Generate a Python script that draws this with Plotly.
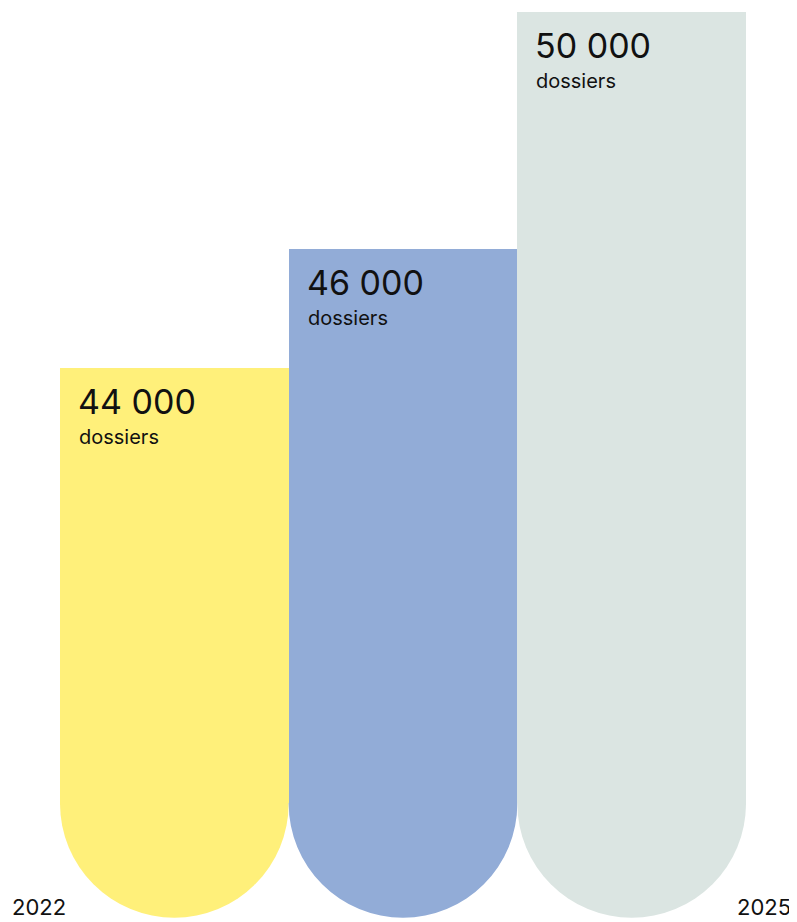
import plotly.graph_objects as go

# Data
categories = [0, 1, 2]
values = [44000, 46000, 50000]
value_labels = ["44 000", "46 000", "50 000"]
unit_label = "dossiers"
axis_labels = ["2022", "2025"]
colors = ["#FFF07A", "#92ACD7", "#DBE5E2"]

Y_MIN, Y_MAX = 34650, 50000
BASE = 36650  # where the rounded bottom starts

# page body has an 8px margin, so the figure is drawn 8px smaller
W, H = 789, 914
ML, MR, MT, MB = 52, 51, 4, 0
bar_px = (W - ML - MR) / len(categories)
r = bar_px / 2

fig = go.Figure()
fig.add_trace(go.Bar(
    x=categories,
    y=[v - BASE for v in values],
    base=[BASE] * len(values),
    marker=dict(color=colors, line=dict(width=0)),
    width=1.0,
    hoverinfo="skip",
))

shapes = []
for i, c in enumerate(categories):
    shapes.append(dict(
        type="circle", xref="x", yref="y",
        xsizemode="pixel", ysizemode="pixel",
        xanchor=c, yanchor=BASE,
        x0=-r, x1=r, y0=-r, y1=r,
        fillcolor=colors[i], line=dict(width=0), layer="below",
    ))

annotations = []
font = "Inter, Roboto, sans-serif"
for i, c in enumerate(categories):
    annotations.append(dict(
        x=c - 0.5, y=values[i], xref="x", yref="y",
        xanchor="left", yanchor="top", xshift=16, yshift=-11,
        text=value_labels[i], showarrow=False,
        font=dict(family=font, size=34, color="#111111"),
    ))
    annotations.append(dict(
        x=c - 0.5, y=values[i], xref="x", yref="y",
        xanchor="left", yanchor="top", xshift=17, yshift=-55,
        text=unit_label, showarrow=False,
        font=dict(family=font, size=20, color="#111111"),
    ))

annotations.append(dict(
    x=0, y=0, xref="paper", yref="paper", xanchor="left", yanchor="bottom",
    xshift=-50, yshift=0, text=axis_labels[0], showarrow=False,
    font=dict(family=font, size=22, color="#111111"),
))
annotations.append(dict(
    x=1, y=0, xref="paper", yref="paper", xanchor="left", yanchor="bottom",
    xshift=-11, yshift=0, text=axis_labels[1], showarrow=False,
    font=dict(family=font, size=22, color="#111111"),
))

fig.update_layout(
    width=W, height=H,
    margin=dict(l=ML, r=MR, t=MT, b=MB),
    paper_bgcolor="white", plot_bgcolor="white",
    bargap=0, showlegend=False,
    shapes=shapes, annotations=annotations,
    xaxis=dict(range=[-0.5, 2.5], visible=False, fixedrange=True),
    yaxis=dict(range=[Y_MIN, Y_MAX], visible=False, fixedrange=True),
)

fig.write_html("out.html")
